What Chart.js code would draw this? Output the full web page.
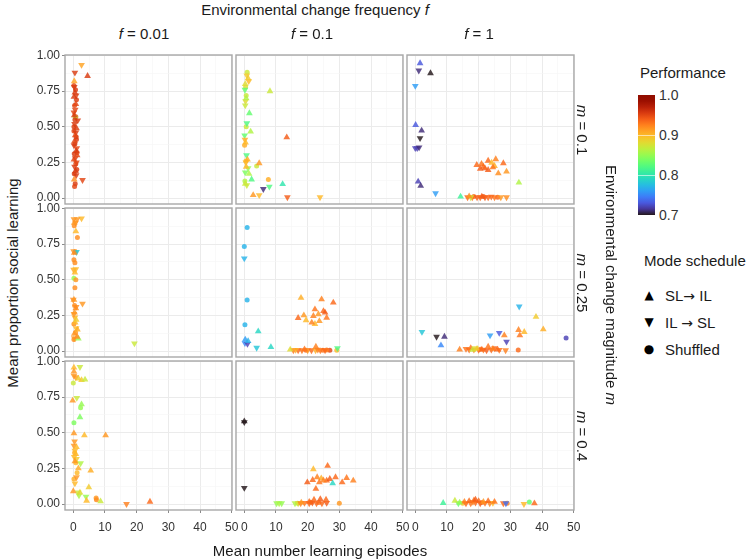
<!DOCTYPE html>
<html>
<head>
<meta charset="utf-8">
<script src="https://cdn.jsdelivr.net/npm/chart.js@4.4.0/dist/chart.umd.min.js"></script>
<style>
  body { margin: 0; background: #fff; font-family: "Liberation Sans", Arial, sans-serif; }
  #wrap { position: relative; width: 749px; height: 559px; overflow: hidden; }
  #wrap canvas { position: absolute; }
  .t { position: absolute; white-space: nowrap; color: #1a1a1a; font-size: 15px; line-height: 1; }
  .c { transform: translate(-50%, -50%); }
  .rr { transform: translate(-50%, -50%) rotate(90deg); }
  .rl { transform: translate(-50%, -50%) rotate(-90deg); }
  .lab { font-size: 14px; color: #333; transform: translateY(-50%); }
  .arr { font-family: "DejaVu Sans", sans-serif; font-size: 14px; }
  #bar { position: absolute; left: 638px; top: 95px; width: 17px; height: 120px; }
</style>
</head>
<body>
<div id="wrap"></div>
<script>
// facets
const freqLabels = ['0.01', '0.1', '1'];
const magLabels = ['0.1', '0.25', '0.4'];
const xTickValues = [0, 10, 20, 30, 40, 50];
const yTickValues = [0, 0.25, 0.5, 0.75, 1];
const perfTicks = [1.0, 0.9, 0.8, 0.7];
const modeNames = ['SL\u2192 IL', 'IL \u2192 SL', 'Shuffled'];

// points: [mean learning episodes, proportion social learning, performance]
// f = 0.01, m = 0.1
const f001_m01_up = [[4.5,0.857,0.955],[0.3,0.82,0.91],[0.5,0.74,0.955],[0.8,0.66,0.95],[0.3,0.58,0.955],[1.0,0.49,0.955],[0.4,0.40,0.95],[0.9,0.33,0.955],[0.2,0.27,0.95],[0.7,0.19,0.955],[0.3,0.13,0.92],[1.2,0.30,0.95],[0.6,0.44,0.95],[0.2,0.71,0.955]];
const f001_m01_down = [[2.6,0.934,0.91],[0.5,0.88,0.955],[0.3,0.78,0.955],[0.9,0.72,0.955],[0.6,0.62,0.95],[1.4,0.545,0.955],[0.4,0.52,0.955],[0.8,0.46,0.955],[0.2,0.37,0.955],[1.1,0.35,0.95],[0.6,0.28,0.955],[0.4,0.22,0.955],[2.9,0.126,0.95],[0.9,0.16,0.955],[0.2,0.60,0.95],[1.0,0.25,0.95]];
const f001_m01_shuf = [[0.2,0.79,0.95],[0.7,0.76,0.955],[1.0,0.69,0.955],[0.4,0.65,0.95],[0.8,0.57,0.95],[0.6,0.567,0.86],[0.2,0.50,0.955],[0.9,0.43,0.955],[0.5,0.38,0.955],[1.2,0.32,0.95],[0.3,0.31,0.955],[0.8,0.24,0.95],[0.3,0.17,0.955],[0.6,0.10,0.955],[0.4,0.08,0.95],[1.0,0.41,0.955],[0.5,0.55,0.955],[0.2,0.47,0.95],[1.1,0.20,0.955]];
// f = 0.1, m = 0.1
const f01_m01_up = [[1.2,0.84,0.89],[0.3,0.80,0.88],[8.1,0.75,0.87],[0.6,0.70,0.86],[1.6,0.595,0.83],[2.0,0.466,0.86],[0.4,0.39,0.90],[13.4,0.426,0.94],[4.7,0.244,0.915],[0.6,0.22,0.90],[1.5,0.17,0.86],[2.3,0.13,0.82],[0.3,0.10,0.87],[12.1,0.098,0.80],[2.8,0.02,0.915],[1.0,0.27,0.905]];
const f01_m01_down = [[0.8,0.86,0.89],[1.4,0.82,0.90],[0.2,0.76,0.83],[0.4,0.68,0.88],[0.3,0.65,0.87],[0.8,0.525,0.82],[0.1,0.44,0.83],[0.2,0.41,0.905],[0.7,0.30,0.82],[1.2,0.21,0.85],[0.3,0.18,0.84],[0.8,0.09,0.87],[6.0,0.063,0.71],[7.9,0.08,0.82],[4.7,0.02,0.90],[13.6,0.005,0.94],[23.9,0.005,0.90],[0.5,0.25,0.90]];
const f01_m01_shuf = [[0.9,0.883,0.87],[0.4,0.78,0.88],[0.6,0.50,0.87],[0.1,0.37,0.905],[3.9,0.225,0.87],[0.5,0.26,0.90],[0.2,0.12,0.86],[7.6,0.13,0.905],[0.6,0.72,0.87]];
// f = 1, m = 0.1
const f1_m01_up = [[1.5,0.946,0.73],[4.8,0.876,0.70],[0.1,0.513,0.73],[2.0,0.473,0.71],[0.9,0.115,0.72],[1.7,0.085,0.71],[19.4,0.232,0.935],[20.9,0.239,0.93],[23.0,0.262,0.935],[25.4,0.272,0.925],[24.1,0.248,0.90],[22.0,0.208,0.94],[23.0,0.197,0.94],[25.0,0.225,0.905],[27.8,0.244,0.935],[26.2,0.173,0.92],[28.8,0.185,0.915],[21.5,0.22,0.935],[24.5,0.215,0.93],[20.5,0.205,0.94],[32.7,0.108,0.86],[14.3,0.01,0.81],[17.0,0.012,0.92],[21.0,0.01,0.94]];
const f1_m01_down = [[1.1,0.895,0.71],[0.0,0.787,0.76],[1.5,0.42,0.70],[0.0,0.35,0.72],[0.6,0.35,0.72],[1.2,0.355,0.71],[6.4,0.033,0.76],[16.5,0.005,0.935],[18.0,0.005,0.93],[19.5,0.005,0.94],[20.5,0.005,0.935],[22.0,0.005,0.94],[23.0,0.005,0.935],[25.0,0.005,0.93],[27.0,0.005,0.915],[28.8,0.005,0.92],[17.5,0.005,0.87],[24.0,0.01,0.935]];
const f1_m01_shuf = [[18.5,0.01,0.935],[21.5,0.01,0.94],[26.0,0.006,0.935]];
// f = 0.01, m = 0.25
const f001_m025_up = [[0.3,0.90,0.915],[0.8,0.84,0.90],[0.3,0.69,0.92],[0.5,0.55,0.90],[0.2,0.36,0.915],[0.8,0.30,0.92],[0.4,0.27,0.915],[0.6,0.20,0.90],[1.3,0.15,0.905],[0.3,0.12,0.915],[1.6,0.087,0.85],[0.9,0.22,0.89],[1.2,0.10,0.92]];
const f001_m025_down = [[2.6,0.931,0.90],[0.2,0.926,0.915],[0.7,0.90,0.92],[1.2,0.925,0.915],[0.1,0.70,0.915],[1.0,0.695,0.78],[0.1,0.57,0.905],[0.8,0.575,0.90],[0.0,0.36,0.92],[2.9,0.333,0.915],[0.9,0.31,0.92],[0.5,0.235,0.905],[0.2,0.26,0.915],[0.9,0.16,0.90],[0.3,0.09,0.915],[19.3,0.054,0.87]];
const f001_m025_shuf = [[1.3,0.797,0.92],[0.3,0.88,0.92],[0.6,0.695,0.92],[0.2,0.64,0.92],[0.5,0.62,0.92],[0.2,0.51,0.85],[0.8,0.50,0.915],[0.5,0.445,0.92],[0.4,0.32,0.92],[0.2,0.19,0.92],[0.7,0.13,0.915],[0.2,0.08,0.92]];
// f = 0.1, m = 0.25
const f01_m025_up = [[4.4,0.138,0.79],[0.3,0.08,0.76],[1.2,0.07,0.77],[8.4,0.028,0.79],[17.9,0.373,0.905],[24.4,0.363,0.925],[28.1,0.34,0.935],[18.8,0.25,0.915],[17.0,0.232,0.935],[19.5,0.216,0.90],[22.3,0.293,0.93],[21.8,0.246,0.925],[23.4,0.258,0.915],[25.0,0.28,0.935],[26.0,0.234,0.93],[23.7,0.21,0.915],[22.3,0.19,0.90],[21.3,0.20,0.925],[25.5,0.27,0.94],[22.6,0.03,0.925],[14.5,0.01,0.88],[19.0,0.012,0.93]];
const f01_m025_down = [[0.0,0.65,0.77],[0.2,0.055,0.75],[1.0,0.05,0.72],[3.9,0.023,0.78],[15.5,0.005,0.93],[17.0,0.005,0.935],[18.2,0.005,0.93],[20.0,0.005,0.915],[21.2,0.005,0.935],[22.5,0.005,0.905],[24.0,0.005,0.93],[25.5,0.005,0.935],[29.4,0.02,0.82],[16.2,0.008,0.905],[23.2,0.01,0.925]];
const f01_m025_shuf = [[0.9,0.867,0.77],[0.0,0.734,0.77],[0.9,0.359,0.77],[0.2,0.185,0.77],[27.0,0.005,0.95],[29.2,0.005,0.90],[19.5,0.005,0.935],[24.8,0.006,0.93],[26.0,0.008,0.925]];
// f = 1, m = 0.25
const f1_m025_up = [[38.1,0.24,0.89],[40.4,0.152,0.905],[9.2,0.10,0.71],[8.1,0.04,0.75],[28.1,0.11,0.925],[32.6,0.148,0.925],[33.0,0.11,0.93],[34.4,0.134,0.90],[14.0,0.01,0.925],[17.5,0.02,0.93],[19.5,0.015,0.89],[21.0,0.01,0.935],[23.0,0.03,0.93],[24.5,0.015,0.925],[26.0,0.01,0.935],[18.0,0.008,0.87]];
const f1_m025_down = [[32.8,0.312,0.77],[2.1,0.134,0.78],[6.7,0.10,0.70],[23.6,0.11,0.76],[26.5,0.127,0.73],[28.8,0.066,0.72],[16.0,0.015,0.93],[17.0,0.01,0.935],[18.5,0.01,0.925],[20.0,0.008,0.935],[21.5,0.01,0.93],[22.5,0.005,0.94],[24.0,0.01,0.935],[25.0,0.02,0.935],[26.5,0.008,0.93],[28.5,0.005,0.925],[19.0,0.02,0.88]];
const f1_m025_shuf = [[47.6,0.091,0.72],[32.5,0.007,0.935],[20.5,0.012,0.93]];
// f = 0.01, m = 0.4
const f001_m04_up = [[0.2,0.958,0.90],[0.2,0.93,0.915],[1.6,0.88,0.89],[2.6,0.87,0.89],[3.7,0.873,0.87],[-0.2,0.726,0.915],[2.6,0.70,0.85],[2.1,0.609,0.84],[0.2,0.496,0.915],[3.5,0.482,0.90],[10.2,0.482,0.915],[0.8,0.35,0.90],[1.6,0.25,0.905],[5.5,0.235,0.905],[4.9,0.117,0.89],[0.0,0.09,0.915],[4.2,0.023,0.90],[8.6,0.019,0.87],[24.2,0.016,0.935],[1.0,0.40,0.90],[0.5,0.30,0.915],[2.1,0.08,0.88]];
const f001_m04_down = [[2.1,0.962,0.87],[0.2,0.90,0.915],[1.1,0.745,0.87],[0.2,0.41,0.915],[0.5,0.375,0.90],[1.0,0.316,0.89],[2.3,0.286,0.86],[1.0,0.188,0.915],[0.5,0.145,0.90],[1.5,0.082,0.87],[4.0,0.052,0.85],[16.8,0.0,0.925],[0.4,0.44,0.915],[0.3,0.33,0.90],[1.8,0.06,0.86],[0.8,0.89,0.915]];
const f001_m04_shuf = [[0.0,0.85,0.87],[2.3,0.675,0.85],[0.2,0.57,0.84],[0.8,0.29,0.90],[0.2,0.176,0.905],[7.2,0.042,0.915],[7.3,0.03,0.92],[1.2,0.22,0.90],[0.4,0.36,0.905]];
// f = 0.1, m = 0.4
const f01_m04_up = [[0.0,0.58,0.70],[21.8,0.244,0.90],[26.3,0.268,0.935],[23.0,0.188,0.925],[24.3,0.18,0.905],[19.9,0.152,0.94],[21.6,0.169,0.935],[23.7,0.152,0.93],[26.0,0.164,0.935],[27.0,0.176,0.94],[27.9,0.145,0.79],[28.8,0.188,0.935],[30.9,0.152,0.935],[32.3,0.183,0.93],[34.4,0.164,0.925],[22.6,0.106,0.935],[22.0,0.03,0.935],[24.0,0.035,0.94],[25.8,0.03,0.935],[18.0,0.01,0.915],[20.5,0.015,0.935],[25.0,0.165,0.925]];
const f01_m04_down = [[0.0,0.575,0.70],[0.0,0.113,0.70],[10.2,0.005,0.85],[11.0,0.005,0.86],[11.8,0.005,0.85],[16.0,0.005,0.86],[17.0,0.005,0.88],[19.0,0.008,0.93],[20.5,0.005,0.935],[21.5,0.01,0.94],[22.8,0.005,0.935],[24.5,0.005,0.935],[26.0,0.008,0.94],[17.8,0.005,0.925]];
const f01_m04_shuf = [[30.0,0.005,0.915],[21.0,0.012,0.935],[16.8,0.005,0.86],[23.5,0.01,0.93]];
// f = 1, m = 0.4
const f1_m04_up = [[8.8,0.007,0.81],[12.5,0.023,0.87],[15.5,0.015,0.925],[17.0,0.02,0.935],[18.5,0.025,0.93],[20.0,0.02,0.935],[21.5,0.015,0.915],[23.0,0.02,0.935],[25.0,0.015,0.93],[37.6,0.005,0.935],[14.0,0.01,0.85],[19.0,0.03,0.94]];
const f1_m04_down = [[13.6,0.005,0.83],[16.0,0.005,0.935],[17.5,0.005,0.93],[19.0,0.01,0.935],[20.5,0.005,0.94],[22.0,0.008,0.935],[23.5,0.005,0.925],[24.5,0.008,0.90],[27.8,0.005,0.935],[28.6,0.005,0.74],[34.3,0.0,0.90],[18.2,0.015,0.925]];
const f1_m04_shuf = [[36.0,0.015,0.83],[29.0,0.005,0.925],[21.0,0.01,0.93],[15.0,0.005,0.90]];

const panelData = [
  [[f001_m01_up, f001_m01_down, f001_m01_shuf], [f01_m01_up, f01_m01_down, f01_m01_shuf], [f1_m01_up, f1_m01_down, f1_m01_shuf]],
  [[f001_m025_up, f001_m025_down, f001_m025_shuf], [f01_m025_up, f01_m025_down, f01_m025_shuf], [f1_m025_up, f1_m025_down, f1_m025_shuf]],
  [[f001_m04_up, f001_m04_down, f001_m04_shuf], [f01_m04_up, f01_m04_down, f01_m04_shuf], [f1_m04_up, f1_m04_down, f1_m04_shuf]]
];

// turbo colour map (polynomial approximation)
const turbo = (t) => {
  t = Math.max(0, Math.min(1, t));
  const r = 0.13572138 + t * (4.61539260 + t * (-42.66032258 + t * (132.13108234 + t * (-152.94239396 + t * 59.28637943))));
  const g = 0.09140261 + t * (2.19418839 + t * (4.84296658 + t * (-14.18503333 + t * (4.27729857 + t * 2.82956604))));
  const b = 0.10667330 + t * (12.64194608 + t * (-60.58204836 + t * (110.36276771 + t * (-89.90310912 + t * 27.34824973))));
  return [r, g, b].map(v => Math.round(255 * Math.max(0, Math.min(1, v))));
};
const perfColor = (p, a) => {
  const [r, g, b] = turbo((p - 0.7) / 0.3);
  return `rgba(${r},${g},${b},${a})`;
};

const wrap = document.getElementById('wrap');
const addText = (html, cls, x, y, extra) => {
  const d = document.createElement('div');
  d.className = 't ' + cls;
  d.innerHTML = html;
  d.style.left = x + 'px';
  d.style.top = y + 'px';
  if (extra) Object.assign(d.style, extra);
  wrap.appendChild(d);
  return d;
};

// panel geometry
const colLeft = [65, 236, 407];
const rowTop = [55, 208, 361];
const panelW = 167, panelH = 149;
const yAxisW = 35, xAxisH = 28, margin = 8;

const borderPlugin = {
  id: 'panelBorder',
  afterDraw(chart) {
    const { ctx, chartArea: a } = chart;
    ctx.save();
    ctx.strokeStyle = '#a8a8a8';
    ctx.lineWidth = 1.4;
    ctx.strokeRect(a.left, a.top, a.right - a.left, a.bottom - a.top);
    ctx.restore();
  }
};

const noPad = s => { s.paddingLeft = 0; s.paddingRight = 0; s.paddingTop = 0; s.paddingBottom = 0; };

const shapeStyle = [
  { pointStyle: 'triangle', radius: 3.9, rotation: 0 },
  { pointStyle: 'triangle', radius: 3.9, rotation: 180 },
  { pointStyle: 'circle', radius: 2.5, rotation: 0 }
];

panelData.forEach((row, r) => {
  row.forEach((sets, c) => {
    const leftCol = c === 0, bottomRow = r === 2;
    const padL = leftCol ? yAxisW : margin;
    const padB = bottomRow ? xAxisH : margin;
    const canvas = document.createElement('canvas');
    canvas.width = panelW + padL + margin;
    canvas.height = panelH + margin + padB;
    canvas.style.left = (colLeft[c] - padL) + 'px';
    canvas.style.top = (rowTop[r] - margin) + 'px';
    wrap.appendChild(canvas);

    const datasets = sets.map((pts, k) => ({
      label: modeNames[k],
      data: pts.map(p => ({ x: p[0], y: p[1], perf: p[2] })),
      pointStyle: shapeStyle[k].pointStyle,
      pointRadius: shapeStyle[k].radius,
      pointRotation: shapeStyle[k].rotation,
      pointBorderWidth: 0,
      pointBackgroundColor: ctx => perfColor(ctx.raw.perf, 0.82),
      pointBorderColor: 'rgba(0,0,0,0)',
      showLine: false
    }));

    new Chart(canvas.getContext('2d'), {
      type: 'scatter',
      data: { datasets },
      options: {
        responsive: false,
        animation: false,
        devicePixelRatio: 1,
        layout: { padding: { left: leftCol ? 0 : margin, top: margin, right: margin, bottom: bottomRow ? 0 : margin } },
        plugins: { legend: { display: false }, tooltip: { enabled: false } },
        scales: {
          x: {
            type: 'linear', min: -2.62, max: 50.1,
            afterBuildTicks: s => { s.ticks = Array.from({ length: 11 }, (_, i) => ({ value: i * 5 })); },
            afterFit: s => { s.height = bottomRow ? xAxisH : 0; noPad(s); },
            border: { display: false },
            grid: {
              color: ctx => (ctx.index % 2 === 0 ? '#ebebeb' : '#f5f5f5'),
              lineWidth: ctx => (ctx.index % 2 === 0 ? 1 : 0.6),
              drawTicks: bottomRow, tickLength: 3,
              tickColor: ctx => (ctx.index % 2 === 0 ? '#8a8a8a' : 'rgba(0,0,0,0)')
            },
            ticks: {
              display: bottomRow, padding: 7, maxRotation: 0, autoSkip: false,
              color: '#333', font: { family: 'Liberation Sans, Arial', size: 12 },
              callback: (v) => (xTickValues.includes(v) ? String(v) : '')
            }
          },
          y: {
            type: 'linear', min: -0.042, max: 1.004,
            afterBuildTicks: s => { s.ticks = Array.from({ length: 9 }, (_, i) => ({ value: i * 0.125 })); },
            afterFit: s => { s.width = leftCol ? yAxisW : 0; noPad(s); },
            border: { display: false },
            grid: {
              color: ctx => (ctx.index % 2 === 0 ? '#ebebeb' : '#f5f5f5'),
              lineWidth: ctx => (ctx.index % 2 === 0 ? 1 : 0.6),
              drawTicks: leftCol, tickLength: 3,
              tickColor: ctx => (ctx.index % 2 === 0 ? '#8a8a8a' : 'rgba(0,0,0,0)')
            },
            ticks: {
              display: leftCol, padding: 2, autoSkip: false,
              color: '#333', font: { family: 'Liberation Sans, Arial', size: 12 },
              callback: (v) => (yTickValues.some(t => Math.abs(t - v) < 1e-9) ? v.toFixed(2) : '')
            }
          }
        }
      },
      plugins: [borderPlugin]
    });
  });
});

// facet strips and titles
const stripX = [144, 312, 479];
freqLabels.forEach((f, i) => addText(`<i>f</i> = ${f}`, 'c', stripX[i], 33));
magLabels.forEach((m, i) => addText(`<i>m</i> = ${m}`, 'rr', 582, rowTop[i] + panelH / 2));
addText('Environmental change frequency <i>f</i>', 'c', 315, 9);
addText('Environmental change magnitude <i>m</i>', 'rr', 611, 285);
addText('Mean proportion social learning', 'rl', 12, 283);
addText('Mean number learning episodes', 'c', 320, 550);

// colour bar legend
addText('Performance', '', 640, 64.5);
const bar = document.createElement('div');
bar.id = 'bar';
const stops = [];
for (let i = 0; i <= 20; i++) {
  const [r, g, b] = turbo(1 - i / 20);
  stops.push(`rgb(${r},${g},${b}) ${i * 5}%`);
}
bar.style.background = `linear-gradient(to bottom, ${stops.join(',')})`;
wrap.appendChild(bar);
perfTicks.forEach((p, i) => {
  addText(p.toFixed(1), 'lab', 659, 95 + i * 40);
  if (i > 0 && i < perfTicks.length - 1) {
    const tk = document.createElement('div');
    Object.assign(tk.style, { position: 'absolute', left: '638px', top: (95 + i * 40) + 'px', width: '17px', height: '1px', background: 'rgba(255,255,255,0.6)' });
    wrap.appendChild(tk);
  }
});

// mode schedule legend
addText('Mode schedule', '', 644, 252.5);
const symbols = ['\u25B2', '\u25BC', '\u25CF'];
modeNames.forEach((name, i) => {
  const y = [295, 322, 349][i];
  addText(symbols[i], 'c', 649, y, { fontSize: '12px', color: '#000', fontFamily: 'DejaVu Sans' });
  const html = name.replace('\u2192', '<span class="arr">\u2192</span>');
  addText(html, 'lab', 665, y, { fontSize: '15px', color: '#1a1a1a' });
});
</script>
</body>
</html>
